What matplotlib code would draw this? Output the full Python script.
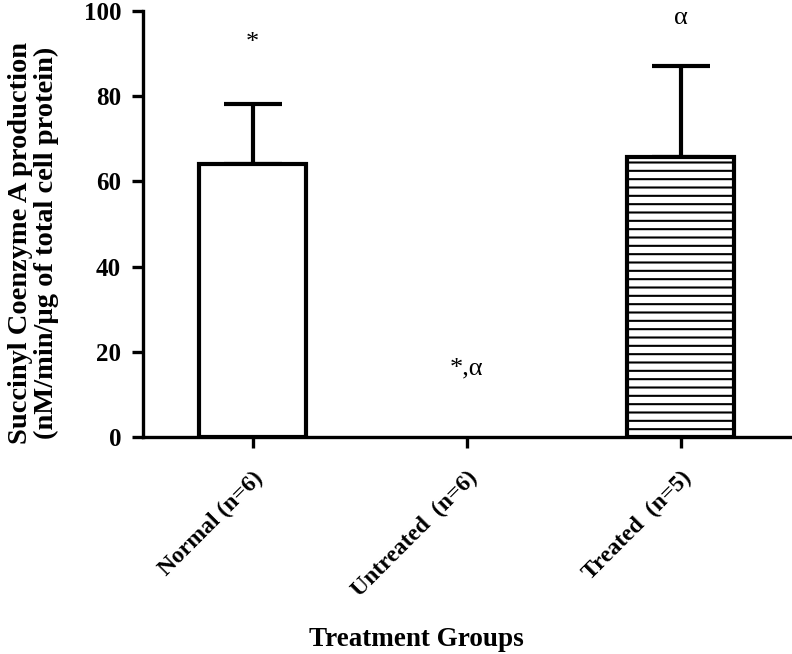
import matplotlib.pyplot as plt

# data
groups = ['Normal (n=6)', 'Untreated  (n=6)', 'Treated  (n=5)']
means = [64.2, 0.0, 65.7]
sem_up = [14.0, 0.0, 21.4]
marks = ['*', '*,\u03b1', '\u03b1']
mark_y = [92.5, 16.0, 98.5]

plt.rcParams['font.family'] = ['Liberation Serif', 'DejaVu Serif']
plt.rcParams['hatch.linewidth'] = 1.5

fig = plt.figure(figsize=(7.92, 6.54), dpi=100)
ax = fig.add_axes([0.181, 0.332, 0.819, 0.651])

x = range(len(groups))
hatches = ['', '', '--']
for i in x:
    if means[i] > 0:
        ax.bar(i, means[i], width=0.5, color='white', edgecolor='black',
               linewidth=3.0, hatch=hatches[i], zorder=2)
    if sem_up[i] > 0:
        ax.errorbar(i, means[i], yerr=[[0], [sem_up[i]]], fmt='none',
                    ecolor='black', elinewidth=3.0, capsize=21,
                    capthick=3.0, zorder=1)
    ax.text(i, mark_y[i], marks[i], ha='center', va='center', fontsize=19)

ax.set_xlim(-0.51, 2.52)
ax.set_ylim(0, 100)
ax.set_yticks([0, 20, 40, 60, 80, 100])
ax.set_xticks(list(x))
ax.set_xticklabels(groups, rotation=45, ha='right', rotation_mode='anchor',
                   fontsize=17, fontweight='bold')
for lab in ax.get_yticklabels():
    lab.set_fontweight('bold')
    lab.set_fontsize(18)

ax.spines['top'].set_visible(False)
ax.spines['right'].set_visible(False)
ax.spines['left'].set_linewidth(2.4)
ax.spines['bottom'].set_linewidth(2.4)
ax.tick_params(axis='both', width=2.4, length=8, direction='out')
ax.tick_params(axis='x', pad=14)
ax.tick_params(axis='y', pad=8)

ax.set_ylabel('Succinyl Coenzyme A production\n(nM/min/\u00b5g of total cell protein)',
              fontsize=20.5, fontweight='bold', linespacing=1.05)
ax.yaxis.set_label_coords(-0.13, 0.455)
fig.text(416 / 792, 1 - 640 / 654, 'Treatment Groups', ha='center',
         va='center', fontsize=19.5, fontweight='bold')

fig.savefig('out.png', dpi=100)
